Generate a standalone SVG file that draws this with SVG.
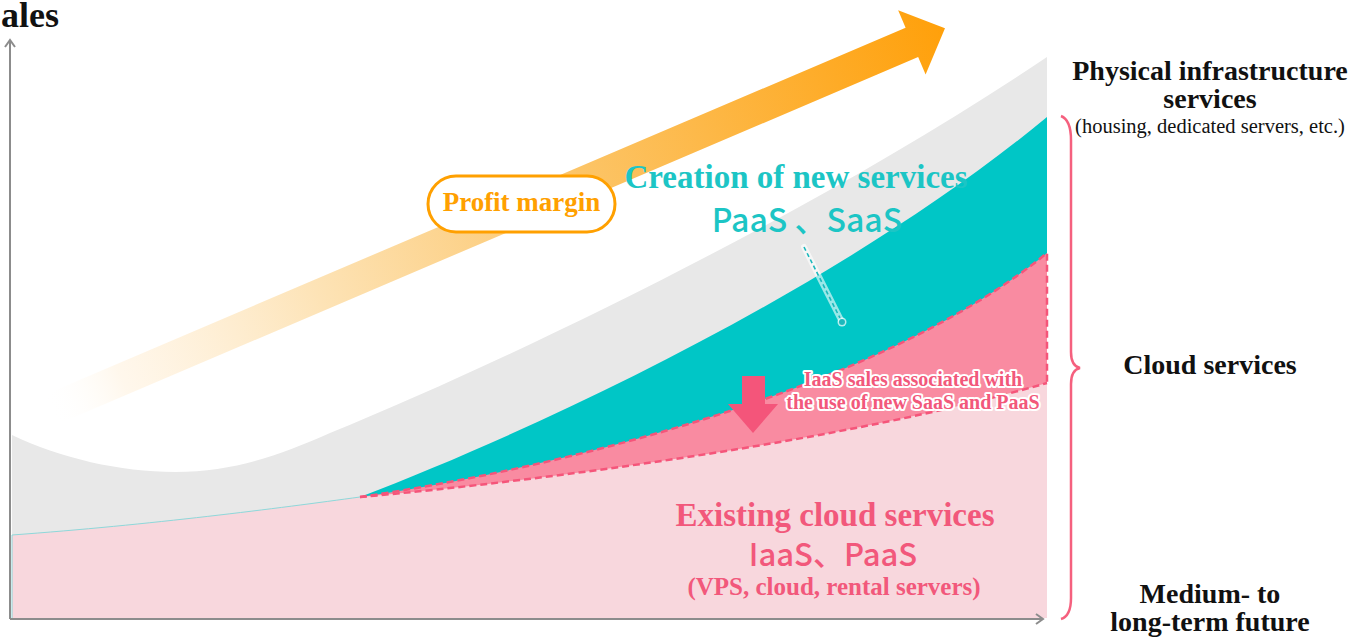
<svg xmlns="http://www.w3.org/2000/svg" width="1365" height="637" viewBox="0 0 1365 637">
  <defs>
    <style>
      .serif { font-family: "Liberation Serif", "Times New Roman", serif; }
      .sans { font-family: "Noto Sans CJK JP", "Noto Sans", sans-serif; font-weight: 500; }
      .label { font-family: "Liberation Serif", serif; font-weight: bold; font-size: 28px; fill: #111; text-anchor: middle; }
      .teal { fill: #1CC5C5; }
      .rose { fill: #F2587B; }
      .halo { paint-order: stroke; stroke: #fff; stroke-width: 4; stroke-linejoin: round; }
      .axis { stroke: #8c8c8c; stroke-width: 2; fill: none; }
      .dash { stroke: #F5557A; stroke-width: 2.5; stroke-dasharray: 7 4; fill: none; }
    </style>
    <linearGradient id="profitGrad" gradientUnits="userSpaceOnUse" x1="0" y1="0" x2="973" y2="0">
      <stop offset="0" stop-color="#ffffff" stop-opacity="0"/>
      <stop offset="0.08" stop-color="#FFF4E4" stop-opacity="0.7"/>
      <stop offset="0.3" stop-color="#FDE3B6"/>
      <stop offset="0.6" stop-color="#FCC466"/>
      <stop offset="1" stop-color="#FFA00A"/>
    </linearGradient>
  </defs>

  <!-- stacked sales areas -->
  <g id="area-physical">
    <path fill="#E8E8E8" d="M12,435 C60,458 120,472 175,472 C235,472 280,455 330,433 C520,355 820,210 1047,57 L1047,618 L12,618 Z"/>
  </g>
  <g id="area-new-services">
    <path fill="#00C6C6" d="M360,497 C560,420 850,280 1047,117 L1047,618 L360,618 Z"/>
  </g>
  <g id="area-iaas-new">
    <path fill="#F98BA1" d="M360,497 C560,468 880,390 1047,253 L1047,618 L360,618 Z"/>
  </g>
  <g id="area-existing">
    <path fill="#F8D7DD" d="M12,535 C150,525 280,508 360,497 C550,480 850,440 1047,383 L1047,618 L12,618 Z"/>
    <path fill="none" stroke="#8ED8DA" stroke-width="1" d="M12,618 L12,535 C150,525 280,508 360,497"/>
  </g>

  <!-- dashed outline of the IaaS growth band -->
  <g id="connectors">
    <path class="dash" d="M360,497 C560,468 880,390 1047,253 L1047,383"/>
    <path class="dash" d="M360,497 C550,480 850,440 1047,383"/>
    <!-- leader from the PaaS/SaaS label -->
    <line x1="804" y1="247" x2="842" y2="322" stroke="#ffffff" stroke-width="6" stroke-opacity="0.6" stroke-linecap="round"/>
    <line x1="804" y1="247" x2="842" y2="322" stroke="#1CB8BC" stroke-width="1.6" stroke-dasharray="4 3"/>
    <circle cx="842" cy="322" r="4.5" fill="#ffffff" fill-opacity="0.7"/>
    <circle cx="842" cy="322" r="3" fill="#1CB8BC"/>
    <!-- axes -->
    <path class="axis" d="M10,619 L10,40 M5,47 L10,40 L15,47"/>
    <path class="axis" d="M10,619 L1043,619 M1036,614 L1043,619 L1036,624"/>
    <!-- brace grouping the cloud services -->
    <path fill="none" stroke="#F5607E" stroke-width="2.5" d="M1061,116 Q1071,120 1071,140 L1071,352 Q1071,366 1080,368 Q1071,370 1071,384 L1071,598 Q1071,616 1061,619"/>
  </g>

  <!-- profit margin trend arrow -->
  <g id="profit-arrow" transform="translate(50,410) rotate(-23.1)">
    <path fill="url(#profitGrad)" d="M0,-16 L937,-16 L937,-35 L973,0 L937,35 L937,16 L0,16 Z"/>
  </g>
  <g id="profit-label">
    <rect x="428" y="176" width="187" height="56" rx="28" fill="#ffffff" stroke="#FFA000" stroke-width="3"/>
    <text x="521.5" y="211" class="serif" font-weight="bold" font-size="27" fill="#FFA000" text-anchor="middle">Profit margin</text>
  </g>

  <!-- down arrow into the IaaS band -->
  <g id="iaas-arrow">
    <path fill="#F4557A" d="M742,376 L765,376 L765,404 L778,404 L753,433 L728,404 L742,404 Z"/>
  </g>

  <g id="new-services-label">
    <text x="796" y="188" class="serif teal" font-weight="bold" font-size="33" text-anchor="middle">Creation of new services</text>
    <text x="807" y="232" class="sans teal" font-size="32" text-anchor="middle">PaaS 、SaaS</text>
  </g>

  <g id="iaas-label">
    <text x="913" y="386" class="serif rose halo" font-weight="bold" font-size="20" text-anchor="middle">IaaS sales associated with</text>
    <text x="913" y="409" class="serif rose halo" font-weight="bold" font-size="20" text-anchor="middle">the use of new SaaS and PaaS</text>
  </g>

  <g id="existing-label">
    <text x="835" y="526" class="serif rose" font-weight="bold" font-size="33" text-anchor="middle">Existing cloud services</text>
    <text x="833" y="566" class="sans rose" font-size="31" text-anchor="middle">IaaS、PaaS</text>
    <text x="834" y="595" class="serif rose" font-weight="bold" font-size="25" text-anchor="middle">(VPS, cloud, rental servers)</text>
  </g>

  <g id="axis-title">
    <text x="1" y="27" class="serif" font-weight="bold" font-size="36" fill="#111">ales</text>
  </g>

  <g id="physical-label">
    <text x="1210" y="80" class="label">Physical infrastructure</text>
    <text x="1210" y="108" class="label">services</text>
    <text x="1210" y="133" class="serif" font-size="20.5" fill="#111" text-anchor="middle">(housing, dedicated servers, etc.)</text>
  </g>
  <g id="cloud-label">
    <text x="1210" y="374" class="label">Cloud services</text>
  </g>
  <g id="future-label">
    <text x="1210" y="603" class="label">Medium- to</text>
    <text x="1210" y="631" class="label">long-term future</text>
  </g>
</svg>
